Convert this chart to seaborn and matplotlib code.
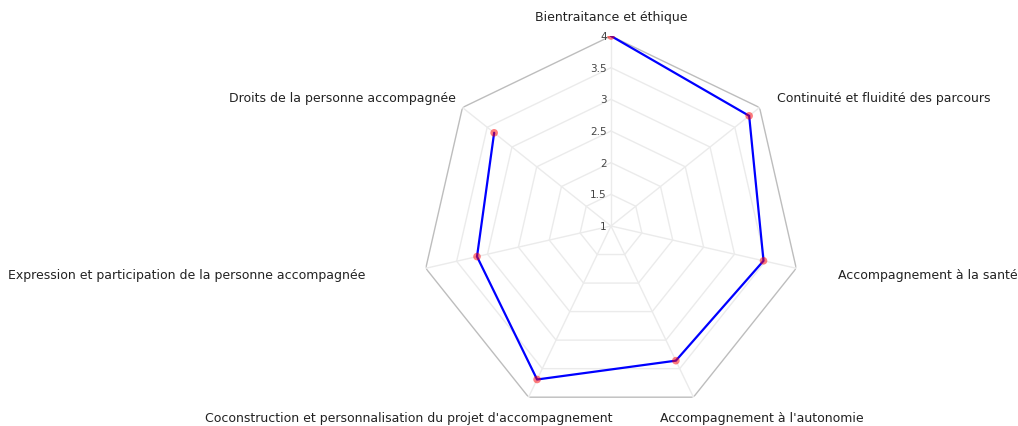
import numpy as np
import pandas as pd
import matplotlib
matplotlib.use("Agg")
import matplotlib.pyplot as plt
import seaborn as sns

categories = [
    "Bientraitance et éthique",
    "Continuité et fluidité des parcours",
    "Accompagnement à la santé",
    "Accompagnement à l'autonomie",
    "Coconstruction et personnalisation du projet d'accompagnement",
    "Expression et participation de la personne accompagnée",
    "Droits de la personne accompagnée",
]
values = [4.0, 3.79, 3.47, 3.36, 3.69, 3.17, 3.36]
radial_ticks = [1, 1.5, 2, 2.5, 3, 3.5, 4]
radial_labels = ["1", "1.5", "2", "2.5", "3", "3.5", "4"]

sns.set_theme(style="white")
plt.rcParams["font.family"] = ["DejaVu Sans"]

n = len(categories)
angles = np.linspace(0, 2 * np.pi, n, endpoint=False)
df = pd.DataFrame({"category": categories, "value": values, "theta": angles})
closed = pd.concat([df, df.iloc[:1]], ignore_index=True)

fig = plt.figure(figsize=(10.18, 4.27), dpi=100)
cx, cy, R = 611 / 1018, 1 - 227 / 427, 190
w, h = 2 * R / 1018, 2 * R / 427
ax = fig.add_axes([cx - w / 2, cy - h / 2, w, h], projection="polar")
ax.set_theta_zero_location("N")
ax.set_theta_direction(-1)
ax.set_ylim(radial_ticks[0], radial_ticks[-1])
ax.grid(False)
ax.spines["polar"].set_visible(False)
ax.set_xticks([])
ax.set_yticks([])
ax.set_facecolor("none")

th_closed = np.append(angles, angles[0])
# polygon grid rings
for t in radial_ticks[1:]:
    col = "#bdbdbd" if t == radial_ticks[-1] else "#ebebeb"
    ax.plot(th_closed, [t] * (n + 1), color=col, lw=1, zorder=1)
# spokes
for a in angles:
    ax.plot([a, a], [radial_ticks[0], radial_ticks[-1]], color="#ebebeb", lw=1, zorder=1)

# radial tick labels
for t, lab in zip(radial_ticks, radial_labels):
    ax.annotate(lab, xy=(0, t), xytext=(-3, 0), textcoords="offset points",
                ha="right", va="center", fontsize=7.5, color="#444444", zorder=3)

sns.lineplot(data=closed, x="theta", y="value", sort=False, ax=ax,
             color="#0000ff", lw=1.6, zorder=4, legend=False)
sns.scatterplot(data=df, x="theta", y="value", ax=ax, color="#ff0000",
                alpha=0.5, s=30, edgecolor="none", zorder=5, legend=False)
ax.set_xlabel("")
ax.set_ylabel("")

# category labels (offsets in pixels from the outer vertex)
px = 0.72
offsets = [(0, 20, "center"),
           (17.5, 10.5, "left"),
           (42, -6, "left"),
           (-33, -20, "left"),
           (84, -20, "right"),
           (-60, -6, "right"),
           (-6.5, 10.5, "right")]
for a, cat, (dx, dy, ha) in zip(angles, categories, offsets):
    ax.annotate(cat, xy=(a, radial_ticks[-1]), xytext=(dx * px, dy * px),
                textcoords="offset points", ha=ha, va="center",
                fontsize=9, color="#222222", annotation_clip=False)

fig.savefig("out.png", dpi=100, facecolor="white")
